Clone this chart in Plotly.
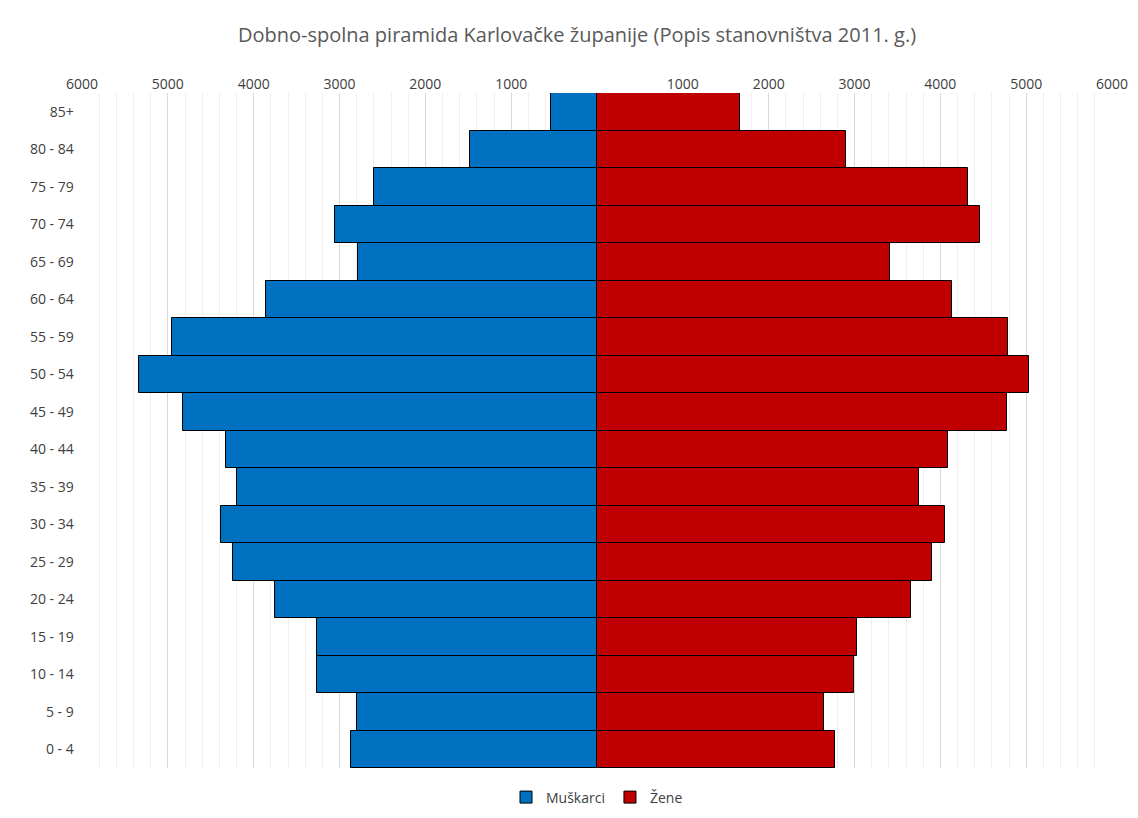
import plotly.graph_objects as go

age_groups = ['0 - 4', '5 - 9', '10 - 14', '15 - 19', '20 - 24', '25 - 29', '30 - 34', '35 - 39',
              '40 - 44', '45 - 49', '50 - 54', '55 - 59', '60 - 64', '65 - 69', '70 - 74',
              '75 - 79', '80 - 84', '85+']
muskarci = [2867, 2797, 3263, 3263, 3753, 4242, 4382, 4196, 4324, 4825, 5338, 4953, 3858,
            2786, 3054, 2600, 1480, 536]
zene = [2774, 2646, 2995, 3030, 3660, 3904, 4056, 3753, 4091, 4779, 5035, 4790, 4138,
        3415, 4464, 4324, 2902, 1667]
tick_vals = [-6000, -5000, -4000, -3000, -2000, -1000, 1000, 2000, 3000, 4000, 5000, 6000]

fig = go.Figure()
fig.add_trace(go.Bar(y=age_groups, x=[-v for v in muskarci], name='Muškarci', orientation='h',
                     marker=dict(color='#0070C0', line=dict(color='black', width=1))))
fig.add_trace(go.Bar(y=age_groups, x=zene, name='Žene', orientation='h',
                     marker=dict(color='#C00000', line=dict(color='black', width=1))))

fig.update_layout(
    width=1138, height=818,
    barmode='relative', bargap=0,
    title=dict(text='Dobno-spolna piramida Karlovačke županije (Popis stanovništva 2011. g.)',
               x=0.5, y=0.975, font=dict(size=20, color='#595959')),
    font=dict(family='Open Sans, Liberation Sans, sans-serif', size=14, color='#404040'),
    plot_bgcolor='white', paper_bgcolor='white',
    margin=dict(l=74, r=34, t=85, b=51),
    legend=dict(orientation='h', x=0.5, xanchor='center', y=-0.02, yanchor='top',
                font=dict(size=14)),
    xaxis=dict(side='top', range=[-6000, 6000], tickvals=tick_vals,
               ticktext=[str(abs(v)) for v in tick_vals],
               showgrid=True, gridcolor='#D9D9D9', zeroline=False,
               minor=dict(dtick=200, showgrid=True, gridcolor='#EFEFEF')),
    yaxis=dict(showgrid=False, ticks='', ticksuffix='  '),
)
fig.write_html('out.html')
